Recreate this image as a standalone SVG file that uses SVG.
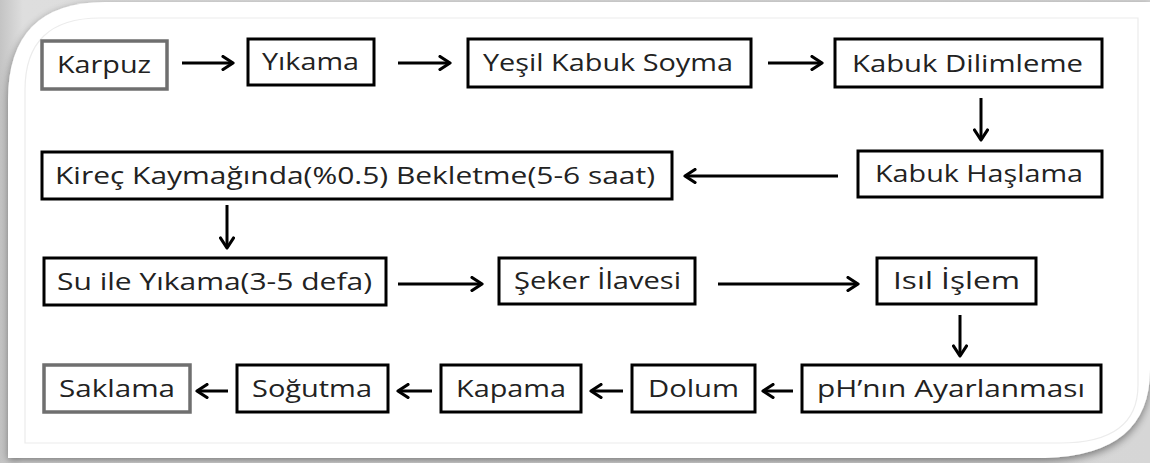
<svg xmlns="http://www.w3.org/2000/svg" width="1150" height="463" viewBox="0 0 1150 463">
  <defs>
    <linearGradient id="bgShade" x1="0" y1="0" x2="1" y2="0">
      <stop offset="0" stop-color="#c4c4c4"/>
      <stop offset="0.02" stop-color="#dedede"/>
      <stop offset="1" stop-color="#d6d6d6"/>
    </linearGradient>
    <filter id="cardShadow" x="-5%" y="-5%" width="110%" height="115%">
      <feGaussianBlur in="SourceAlpha" stdDeviation="4"/>
      <feOffset dx="0" dy="3"/>
      <feComponentTransfer><feFuncA type="linear" slope="0.45"/></feComponentTransfer>
      <feMerge><feMergeNode/><feMergeNode in="SourceGraphic"/></feMerge>
    </filter>
    <marker id="head" viewBox="0 0 14 16" refX="12" refY="8" markerWidth="14" markerHeight="16" markerUnits="userSpaceOnUse" orient="auto">
      <path d="M2,1.5 L12,8 L2,14.5" fill="none" stroke="#000" stroke-width="3.2" stroke-linecap="round" stroke-linejoin="round"/>
    </marker>
  </defs>
  <style>
    .box { fill: #fff; stroke: #000; stroke-width: 3; }
    .box.grey { stroke: #6f6f6f; stroke-width: 3.5; }
    .lbl { font-family: "Open Sans", "DejaVu Sans", sans-serif; font-size: 24px; fill: #222; }
    .link { fill: none; stroke: #000; stroke-width: 3; marker-end: url(#head); }
  </style>

  <!-- page backdrop and rounded card -->
  <rect x="0" y="0" width="1150" height="463" fill="url(#bgShade)"/>
  <path d="M8,100 Q8,2 105,2 H1150 V370 Q1150,455 1045,458 H8 Z" fill="#fff" filter="url(#cardShadow)"/>
  <path d="M25,90 Q25,18 100,18 H1138 V385 Q1138,443 1060,443 H25 Z" fill="none" stroke="#ececec" stroke-width="1.2"/>

  <!-- connectors -->
  <g id="connectors">
    <line class="link" x1="182" y1="63" x2="233" y2="63"/>
    <line class="link" x1="398" y1="63" x2="450" y2="63"/>
    <line class="link" x1="768" y1="63" x2="822" y2="63"/>
    <line class="link" x1="981" y1="98" x2="981" y2="140"/>
    <line class="link" x1="838" y1="176" x2="685" y2="176"/>
    <line class="link" x1="227" y1="205" x2="227" y2="248"/>
    <line class="link" x1="398" y1="284" x2="482" y2="284"/>
    <line class="link" x1="718" y1="284" x2="858" y2="284"/>
    <line class="link" x1="960" y1="315" x2="960" y2="356"/>
    <line class="link" x1="793" y1="391" x2="763" y2="391"/>
    <line class="link" x1="623" y1="391" x2="591" y2="391"/>
    <line class="link" x1="432" y1="391" x2="398" y2="391"/>
    <line class="link" x1="228" y1="391" x2="197" y2="391"/>
  </g>

  <!-- row 1 -->
  <g id="karpuz">
    <rect class="box grey" x="42" y="41" width="125" height="48"/>
    <text class="lbl" x="57" y="73" textLength="94" lengthAdjust="spacingAndGlyphs">Karpuz</text>
  </g>
  <g id="yikama">
    <rect class="box" x="248" y="39" width="126" height="46"/>
    <text class="lbl" x="262" y="70" textLength="97" lengthAdjust="spacingAndGlyphs">Yıkama</text>
  </g>
  <g id="yesil-kabuk-soyma">
    <rect class="box" x="468" y="39" width="283" height="48"/>
    <text class="lbl" x="483" y="71" textLength="250" lengthAdjust="spacingAndGlyphs">Yeşil Kabuk Soyma</text>
  </g>
  <g id="kabuk-dilimleme">
    <rect class="box" x="835" y="39" width="267" height="48"/>
    <text class="lbl" x="852" y="72" textLength="231" lengthAdjust="spacingAndGlyphs">Kabuk Dilimleme</text>
  </g>

  <!-- row 2 -->
  <g id="kabuk-haslama">
    <rect class="box" x="858" y="151" width="244" height="46"/>
    <text class="lbl" x="875" y="182" textLength="208" lengthAdjust="spacingAndGlyphs">Kabuk Haşlama</text>
  </g>
  <g id="kirec-kaymagi">
    <rect class="box" x="42" y="152" width="630" height="47"/>
    <text class="lbl" x="55" y="184" textLength="600" lengthAdjust="spacingAndGlyphs">Kireç Kaymağında(%0.5) Bekletme(5-6 saat)</text>
  </g>

  <!-- row 3 -->
  <g id="su-ile-yikama">
    <rect class="box" x="44" y="258" width="342" height="47"/>
    <text class="lbl" x="57" y="290" textLength="315" lengthAdjust="spacingAndGlyphs">Su ile Yıkama(3-5 defa)</text>
  </g>
  <g id="seker-ilavesi">
    <rect class="box" x="499" y="258" width="196" height="46"/>
    <text class="lbl" x="514" y="289" textLength="167" lengthAdjust="spacingAndGlyphs">Şeker İlavesi</text>
  </g>
  <g id="isil-islem">
    <rect class="box" x="877" y="258" width="159" height="46"/>
    <text class="lbl" x="893" y="289" textLength="127" lengthAdjust="spacingAndGlyphs">Isıl İşlem</text>
  </g>

  <!-- row 4 -->
  <g id="ph-ayari">
    <rect class="box" x="802" y="365" width="299" height="47"/>
    <text class="lbl" x="817" y="397" textLength="268" lengthAdjust="spacingAndGlyphs">pH’nın Ayarlanması</text>
  </g>
  <g id="dolum">
    <rect class="box" x="632" y="365" width="123" height="47"/>
    <text class="lbl" x="648" y="397" textLength="91" lengthAdjust="spacingAndGlyphs">Dolum</text>
  </g>
  <g id="kapama">
    <rect class="box" x="441" y="365" width="140" height="47"/>
    <text class="lbl" x="456" y="397" textLength="110" lengthAdjust="spacingAndGlyphs">Kapama</text>
  </g>
  <g id="sogutma">
    <rect class="box" x="237" y="365" width="151" height="47"/>
    <text class="lbl" x="252" y="397" textLength="120" lengthAdjust="spacingAndGlyphs">Soğutma</text>
  </g>
  <g id="saklama">
    <rect class="box grey" x="44" y="365" width="146" height="47"/>
    <text class="lbl" x="59" y="397" textLength="116" lengthAdjust="spacingAndGlyphs">Saklama</text>
  </g>
</svg>
